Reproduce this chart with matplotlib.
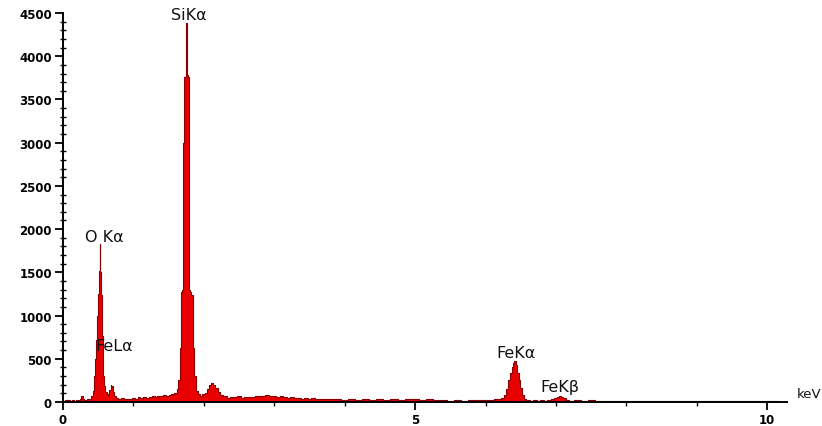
"""EDS spectrum with labelled O, Si and Fe lines."""

import matplotlib

matplotlib.use("Agg")
import matplotlib.pyplot as plt
from matplotlib.ticker import MultipleLocator

# spectrum (energy in keV, counts)
energy = [
    0.00, 0.02, 0.05, 0.08, 0.11, 0.14, 0.17, 0.20, 0.23, 0.25, 0.27, 0.29,
    0.32, 0.35, 0.38, 0.41, 0.43, 0.45, 0.47, 0.48, 0.49, 0.50, 0.51, 0.52,
    0.525, 0.53, 0.54, 0.55, 0.56, 0.57, 0.58, 0.59, 0.61, 0.63, 0.65, 0.67,
    0.68, 0.69, 0.70, 0.71, 0.72, 0.74, 0.77, 0.80, 0.84, 0.88, 0.92, 0.96,
    1.00, 1.04, 1.08, 1.12, 1.16, 1.20, 1.24, 1.28, 1.32, 1.36, 1.40, 1.44,
    1.48, 1.52, 1.56, 1.60, 1.63, 1.65, 1.67, 1.68, 1.69, 1.70, 1.71, 1.72,
    1.74, 1.75, 1.76, 1.78, 1.79, 1.80, 1.82, 1.83, 1.85, 1.87, 1.90, 1.93,
    1.96, 2.00, 2.03, 2.06, 2.09, 2.12, 2.15, 2.18, 2.21, 2.25, 2.30, 2.35,
    2.40, 2.45, 2.50, 2.55, 2.60, 2.65, 2.70, 2.75, 2.80, 2.85, 2.90, 2.95,
    3.00, 3.05, 3.10, 3.15, 3.20, 3.25, 3.30, 3.35, 3.40, 3.45, 3.50, 3.55,
    3.60, 3.65, 3.70, 3.75, 3.80, 3.85, 3.90, 4.00, 4.10, 4.20, 4.30, 4.40,
    4.50, 4.60, 4.70, 4.80, 4.90, 5.00, 5.10, 5.20, 5.30, 5.40, 5.50, 5.60,
    5.70, 5.80, 5.90, 6.00, 6.10, 6.15, 6.20, 6.25, 6.28, 6.31, 6.34, 6.36,
    6.38, 6.40, 6.42, 6.44, 6.46, 6.48, 6.50, 6.53, 6.56, 6.60, 6.65, 6.70,
    6.75, 6.80, 6.85, 6.90, 6.95, 7.00, 7.03, 7.06, 7.09, 7.12, 7.16, 7.20,
    7.30, 7.40, 7.50, 7.60, 7.70, 7.80, 7.90, 8.00, 8.10, 8.20, 8.30, 8.40,
    8.50, 8.60, 8.70, 8.80, 8.90, 9.00, 9.10, 9.20, 9.30, 9.40, 9.50, 9.60,
    9.70, 9.80, 9.90, 10.00, 10.10, 10.20,
]
counts = [
    0, 15, 25, 20, 15, 18, 12, 20, 25, 40, 70, 30,
    25, 35, 40, 70, 130, 300, 500, 720, 1000, 1250, 1500, 1520,
    1830, 1500, 1260, 1240, 760, 480, 300, 180, 120, 95, 80, 140,
    200, 170, 190, 150, 110, 70, 50, 35, 45, 30, 40, 35,
    50, 40, 55, 45, 60, 50, 55, 70, 60, 75, 65, 80,
    70, 85, 90, 100, 150, 260, 620, 1270, 1300, 1300, 3000, 3760,
    3760, 4380, 3780, 3760, 3000, 1300, 1270, 1240, 620, 300, 130, 90,
    70, 90, 100, 150, 200, 220, 200, 160, 110, 80, 70, 50,
    60, 55, 65, 50, 60, 55, 60, 65, 75, 70, 80, 65,
    75, 60, 70, 55, 50, 55, 45, 50, 40, 45, 40, 45,
    35, 40, 35, 40, 30, 35, 30, 25, 30, 25, 30, 25,
    30, 25, 30, 25, 30, 30, 25, 30, 20, 20, 15, 20,
    15, 20, 25, 20, 25, 30, 35, 50, 80, 150, 250, 330,
    410, 450, 470, 430, 340, 250, 160, 80, 40, 20, 15, 20,
    15, 20, 15, 20, 30, 45, 60, 70, 60, 45, 25, 15,
    20, 15, 20, 10, 15, 10, 15, 10, 15, 10, 12, 10,
    15, 10, 12, 8, 12, 10, 8, 12, 10, 8, 10, 12,
    10, 8, 10, 8, 10, 5,
]

# peak labels: (text, energy, counts)
peak_labels = [
    ("SiKα", 1.78, 4480),
    ("O Kα", 0.58, 1915),
    ("FeLα", 0.73, 655),
    ("FeKα", 6.43, 575),
    ("FeKβ", 7.05, 180),
]

plt.rcParams["font.family"] = ["DejaVu Sans"]

fig = plt.figure(figsize=(8.22, 4.27), dpi=100)
ax = fig.add_axes([0.0766, 0.0562, 0.8808, 0.9110])

ax.fill_between(energy, counts, step="mid", color="#e80000", linewidth=0)
ax.plot(energy, counts, drawstyle="steps-mid", color="#8b0000", linewidth=0.8)

for text, x, y in peak_labels:
    ax.text(x, y, text, ha="center", va="center", fontsize=11.5, color="#111111")

ax.text(10.42, 95, "keV", ha="left", va="center", fontsize=9.5,
        color="#111111", clip_on=False)

ax.set_xlim(0, 10.28)
ax.set_ylim(0, 4500)
ax.set_xticks([0, 5, 10])
ax.xaxis.set_minor_locator(MultipleLocator(1))
ax.yaxis.set_major_locator(MultipleLocator(500))
ax.yaxis.set_minor_locator(MultipleLocator(100))

for side in ("top", "right"):
    ax.spines[side].set_visible(False)
for side in ("left", "bottom"):
    ax.spines[side].set_linewidth(1.4)

ax.tick_params(axis="both", which="major", direction="out", length=6, width=1.3,
               labelsize=8.5, pad=2)
ax.tick_params(axis="y", which="minor", direction="inout", length=5, width=1.0)
ax.tick_params(axis="x", which="minor", direction="out", length=3, width=1.0)
for label in ax.get_xticklabels() + ax.get_yticklabels():
    label.set_fontweight("bold")

fig.savefig("out.png", dpi=100)
